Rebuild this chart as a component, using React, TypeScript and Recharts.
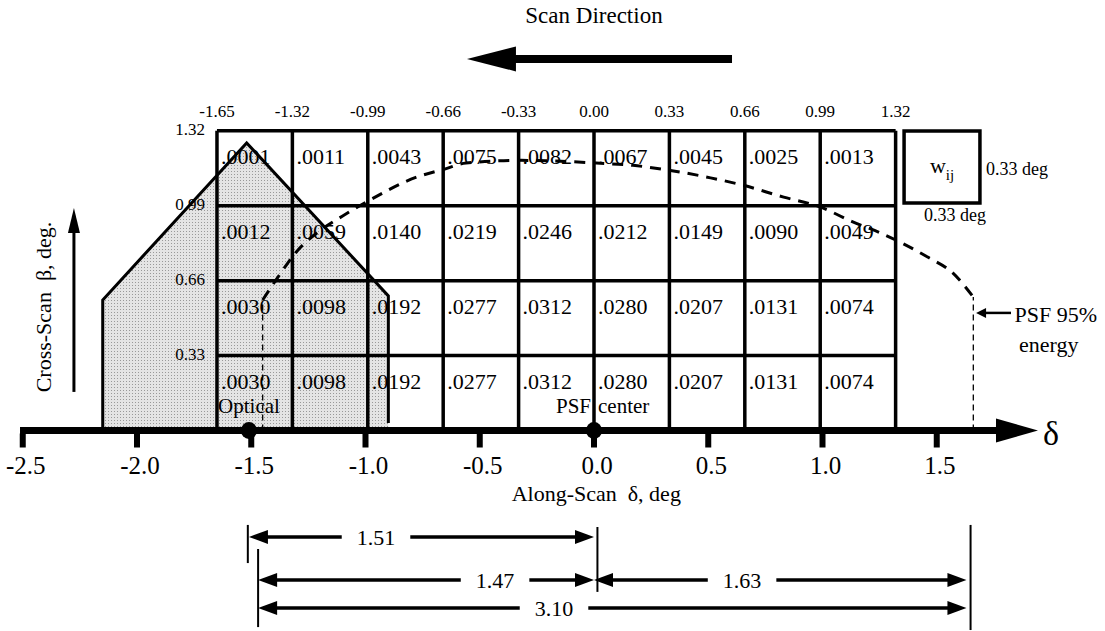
import React from "react";
import {
  ComposedChart,
  XAxis,
  YAxis,
  Area,
  Line,
  Scatter,
  ReferenceLine,
  ReferenceArea,
} from "recharts";

// ---- data ----------------------------------------------------------------

// cell boundaries of the pixel grid, deg
const COL_EDGES = [-1.65, -1.32, -0.99, -0.66, -0.33, 0, 0.33, 0.66, 0.99, 1.32];
const COL_LABELS = ["-1.65", "-1.32", "-0.99", "-0.66", "-0.33", "0.00", "0.33", "0.66", "0.99", "1.32"];
const ROW_EDGES = [1.32, 0.99, 0.66, 0.33, 0];
const ROW_LABELS = ["1.32", "0.99", "0.66", "0.33"];

// pixel weights w_ij, top row first
const WEIGHTS = [
  [0.0001, 0.0011, 0.0043, 0.0075, 0.0082, 0.0067, 0.0045, 0.0025, 0.0013],
  [0.0012, 0.0059, 0.014, 0.0219, 0.0246, 0.0212, 0.0149, 0.009, 0.0049],
  [0.003, 0.0098, 0.0192, 0.0277, 0.0312, 0.028, 0.0207, 0.0131, 0.0074],
  [0.003, 0.0098, 0.0192, 0.0277, 0.0312, 0.028, 0.0207, 0.0131, 0.0074],
];

// along-scan axis
const AXIS_TICKS = [-2.5, -2.0, -1.5, -1.0, -0.5, 0, 0.5, 1.0, 1.5];
const AXIS_TICK_LABELS = ["-2.5", "-2.0", "-1.5", "-1.0", "-0.5", "0.0", "0.5", "1.0", "1.5"];

const OPTICAL_CENTER = -1.51;
const PSF_CENTER = 0;

// shaded field of view outline (delta, beta)
const FOV = [
  { x: -2.15, y: 0 },
  { x: -2.15, y: 0.575 },
  { x: -1.52, y: 1.267 },
  { x: -0.9, y: 0.593 },
  { x: -0.9, y: 0.033 },
];

// PSF 95% energy contour
const PSF95 = [
  { x: -1.45, y: 0.575 },
  { x: -1.38, y: 0.68 },
  { x: -1.3, y: 0.79 },
  { x: -1.2, y: 0.88 },
  { x: -1.1, y: 0.945 },
  { x: -0.99, y: 1.01 },
  { x: -0.78, y: 1.115 },
  { x: -0.66, y: 1.15 },
  { x: -0.56, y: 1.178 },
  { x: -0.32, y: 1.19 },
  { x: -0.12, y: 1.185 },
  { x: 0.01, y: 1.178 },
  { x: 0.17, y: 1.168 },
  { x: 0.32, y: 1.148 },
  { x: 0.51, y: 1.113 },
  { x: 0.65, y: 1.081 },
  { x: 0.83, y: 1.028 },
  { x: 0.99, y: 0.985 },
  { x: 1.13, y: 0.92 },
  { x: 1.25, y: 0.872 },
  { x: 1.46, y: 0.764 },
  { x: 1.57, y: 0.694 },
  { x: 1.66, y: 0.588 },
];

const DIMENSIONS = [
  { from: -1.51, to: 0, label: "1.51" },
  { from: -1.47, to: 0, label: "1.47" },
  { from: 0, to: 1.63, label: "1.63" },
  { from: -1.47, to: 1.63, label: "3.10" },
];

// ---- layout --------------------------------------------------------------

const W = 1105;
const H = 631;
// the reference puts delta=0 at x=594 and beta=0 at y=430.5
const PX_X = 228.5;
const X0 = 594;
const PX_Y = 227;
const Y0 = 430.5;
const X_DOMAIN = [-X0 / PX_X, (W - X0) / PX_X];
const Y_DOMAIN = [-(H - Y0) / PX_Y, Y0 / PX_Y];

const DIM_ROW = [-0.469, -0.659, -0.659, -0.782];
const DIM_LABEL_AT = [-0.954, -0.433, 0.648, -0.175];
const DIM_GAP = 0.15;
const EXT_LINES = [
  { x: -1.515, y1: -0.416, y2: -0.584 },
  { x: -1.47, y1: -0.522, y2: -0.866 },
  { x: 0.015, y1: -0.425, y2: -0.711 },
  { x: 1.648, y1: -0.416, y2: -0.879 },
];

const AXIS_ARROW = { from: -2.512, to: 1.943, y: 0 };
const SCAN_ARROW = { from: 0.604, to: -0.556, y: 1.637 };
const BETA_ARROW = { x: -2.276, from: 0.17, to: 0.98 };
const PSF95_POINTER = { from: 1.825, to: 1.672, y: 0.518 };
const WIJ_BOX = { x1: 1.357, x2: 1.689, y1: 1.002, y2: 1.319 };
const CENTER_LABEL_Y = 0.075;

const FONT = '"Liberation Serif", "Times New Roman", Times, serif';

const seg = (
  key: string,
  x1: number,
  y1: number,
  x2: number,
  y2: number,
  width: number,
  dash?: string
) => (
  <ReferenceLine
    key={key}
    segment={[
      { x: x1, y: y1 },
      { x: x2, y: y2 },
    ]}
    stroke="#000"
    strokeWidth={width}
    strokeDasharray={dash}
    ifOverflow="visible"
  />
);

const head = (len: number, half: number) => (p: any) => {
  const { cx, cy } = p;
  const d = p.payload.dir;
  let pts = "";
  if (d === "left") pts = `${cx},${cy} ${cx + len},${cy - half} ${cx + len},${cy + half}`;
  else if (d === "right") pts = `${cx},${cy} ${cx - len},${cy - half} ${cx - len},${cy + half}`;
  else pts = `${cx},${cy} ${cx - half},${cy + len} ${cx + half},${cy + len}`;
  return <polygon points={pts} fill="#000" />;
};

const label =
  (size: number, anchor: "start" | "middle" | "end", dx = 0, dy = 0) =>
  (p: any) =>
    (
      <text
        x={p.cx + dx}
        y={p.cy + dy}
        fontSize={size}
        textAnchor={anchor}
        fontFamily={FONT}
        fill="#000"
        style={{ whiteSpace: "pre" }}
      >
        {p.payload.text}
      </text>
    );

const CELLS = WEIGHTS.flatMap((row, r) =>
  row.map((v, c) => ({ x: COL_EDGES[c], y: ROW_EDGES[r], text: v.toFixed(4).slice(1) }))
);
const COL_TEXT = COL_EDGES.map((x, i) => ({ x, y: ROW_EDGES[0], text: COL_LABELS[i] }));
const ROW_TEXT = ROW_LABELS.map((t, i) => ({ x: COL_EDGES[0], y: ROW_EDGES[i], text: t }));
const TICK_TEXT = AXIS_TICKS.map((x, i) => ({ x, y: 0, text: AXIS_TICK_LABELS[i] }));

const tickShape = (p: any) => (
  <g>
    <rect x={p.cx - 3} y={p.cy + 3} width={6} height={14} fill="#000" />
    <text x={p.cx + 3} y={p.cy + 43} fontSize={25} textAnchor="middle" fontFamily={FONT} fill="#000">
      {p.payload.text}
    </text>
  </g>
);

const back = (len: number) => (len * 0.7) / PX_X;

export default function App() {
  const last = PSF95[PSF95.length - 1];
  return (
    <div style={{ position: "absolute", left: 0, top: 0, width: W, height: H, background: "#fff" }}>
      <ComposedChart width={W} height={H} margin={{ top: 0, right: 0, bottom: 0, left: 0 }}>
        <defs>
          <pattern id="fovDots" width="3" height="3" patternUnits="userSpaceOnUse">
            <rect width="3" height="3" fill="#e4e4e4" />
            <rect width="1" height="1" fill="#999" />
          </pattern>
        </defs>
        <XAxis type="number" dataKey="x" domain={X_DOMAIN} hide allowDataOverflow />
        <YAxis type="number" dataKey="y" domain={Y_DOMAIN} hide allowDataOverflow />

        <Area
          data={FOV}
          dataKey="y"
          type="linear"
          baseValue={0}
          fill="url(#fovDots)"
          fillOpacity={1}
          stroke="none"
          isAnimationActive={false}
        />

        {/* pixel grid */}
        {ROW_EDGES.slice(0, 4).map((y) =>
          seg(`h${y}`, COL_EDGES[0], y, COL_EDGES[COL_EDGES.length - 1], y, 3.5)
        )}
        {COL_EDGES.map((x) => seg(`v${x}`, x, 0, x, ROW_EDGES[0], 3.5))}

        {/* w_ij legend box */}
        <ReferenceArea
          x1={WIJ_BOX.x1}
          x2={WIJ_BOX.x2}
          y1={WIJ_BOX.y1}
          y2={WIJ_BOX.y2}
          fill="none"
          fillOpacity={0}
          stroke="#000"
          strokeWidth={3.5}
          ifOverflow="visible"
        />

        <Line
          data={FOV}
          dataKey="y"
          type="linear"
          stroke="#000"
          strokeWidth={3}
          dot={false}
          activeDot={false}
          isAnimationActive={false}
        />

        {/* PSF 95% contour and its drop lines */}
        <Line
          data={PSF95}
          dataKey="y"
          type="monotone"
          stroke="#000"
          strokeWidth={3}
          strokeDasharray="11 8"
          dot={false}
          activeDot={false}
          isAnimationActive={false}
        />
        {seg("dropL", PSF95[0].x, 0, PSF95[0].x, PSF95[0].y, 1.3, "6 4")}
        {seg("dropR", last.x, 0, last.x, last.y, 1.3, "6 4")}

        {/* along-scan axis */}
        {seg("axis", AXIS_ARROW.from, 0, AXIS_ARROW.to - back(42), 0, 7)}
        {seg("scan", SCAN_ARROW.from, SCAN_ARROW.y, SCAN_ARROW.to + back(49), SCAN_ARROW.y, 8)}
        {seg("beta", BETA_ARROW.x, BETA_ARROW.from, BETA_ARROW.x, BETA_ARROW.to - (25 * 0.7) / PX_Y, 3)}
        {seg("ptr", PSF95_POINTER.from, PSF95_POINTER.y, PSF95_POINTER.to + back(10), PSF95_POINTER.y, 2.5)}

        {/* dimension lines */}
        {EXT_LINES.map((e, i) => seg(`ext${i}`, e.x, e.y1, e.x, e.y2, 2))}
        {DIMENSIONS.map((d, i) => [
          seg(`dl${i}`, d.from + back(19), DIM_ROW[i], DIM_LABEL_AT[i] - DIM_GAP, DIM_ROW[i], 3.5),
          seg(`dr${i}`, DIM_LABEL_AT[i] + DIM_GAP, DIM_ROW[i], d.to - back(19), DIM_ROW[i], 3.5),
        ])}

        <Scatter
          data={DIMENSIONS.flatMap((d, i) => [
            { x: d.from, y: DIM_ROW[i], dir: "left" },
            { x: d.to, y: DIM_ROW[i], dir: "right" },
          ])}
          shape={head(19, 7)}
          isAnimationActive={false}
        />
        <Scatter
          data={DIMENSIONS.map((d, i) => ({ x: DIM_LABEL_AT[i], y: DIM_ROW[i], text: d.label }))}
          shape={label(22, "middle", 0, 8)}
          isAnimationActive={false}
        />

        <Scatter data={[{ x: AXIS_ARROW.to, y: 0, dir: "right" }]} shape={head(42, 12)} isAnimationActive={false} />
        <Scatter
          data={[{ x: SCAN_ARROW.to, y: SCAN_ARROW.y, dir: "left" }]}
          shape={head(49, 12.5)}
          isAnimationActive={false}
        />
        <Scatter data={[{ x: BETA_ARROW.x, y: BETA_ARROW.to, dir: "up" }]} shape={head(25, 6)} isAnimationActive={false} />
        <Scatter
          data={[{ x: PSF95_POINTER.to, y: PSF95_POINTER.y, dir: "left" }]}
          shape={head(10, 5)}
          isAnimationActive={false}
        />

        {/* axis ticks and labels */}
        <Scatter data={TICK_TEXT} shape={tickShape} isAnimationActive={false} />

        {/* grid texts */}
        <Scatter data={CELLS} shape={label(22, "start", 4, 33)} isAnimationActive={false} />
        <Scatter data={COL_TEXT} shape={label(17, "middle", 0, -14)} isAnimationActive={false} />
        <Scatter data={ROW_TEXT} shape={label(17, "end", -12, 4)} isAnimationActive={false} />

        {/* centres */}
        <Scatter
          data={[
            { x: OPTICAL_CENTER, y: 0 },
            { x: PSF_CENTER, y: 0 },
          ]}
          shape={(p: any) => <ellipse cx={p.cx} cy={p.cy} rx={8} ry={8.5} fill="#000" />}
          isAnimationActive={false}
        />
        <Scatter
          data={[{ x: OPTICAL_CENTER, y: CENTER_LABEL_Y, text: "Optical" }]}
          shape={label(21, "middle")}
          isAnimationActive={false}
        />
        <Scatter
          data={[{ x: PSF_CENTER, y: CENTER_LABEL_Y }]}
          shape={(p: any) => (
            <g fontFamily={FONT} fontSize={21} fill="#000">
              <text x={p.cx - 3} y={p.cy} textAnchor="end">
                PSF
              </text>
              <text x={p.cx + 4} y={p.cy} textAnchor="start">
                center
              </text>
            </g>
          )}
          isAnimationActive={false}
        />

        {/* free labels */}
        <Scatter data={[{ x: 0, y: 1.795, text: "Scan Direction" }]} shape={label(23, "middle")} isAnimationActive={false} />
        <Scatter
          data={[{ x: 0.01, y: -0.311, text: "Along-Scan  \u03b4, deg" }]}
          shape={label(22, "middle")}
          isAnimationActive={false}
        />
        <Scatter data={[{ x: 1.965, y: -0.064, text: "\u03b4" }]} shape={label(34, "start")} isAnimationActive={false} />
        <Scatter
          data={[{ x: -2.411, y: 0.544, text: "Cross-Scan  \u03b2, deg." }]}
          shape={(p: any) => (
            <text
              x={p.cx}
              y={p.cy}
              transform={`rotate(-90 ${p.cx} ${p.cy})`}
              textAnchor="middle"
              dominantBaseline="central"
              fontSize={22}
              fontFamily={FONT}
              fill="#000"
              style={{ whiteSpace: "pre" }}
            >
              {p.payload.text}
            </text>
          )}
          isAnimationActive={false}
        />
        <Scatter
          data={[{ x: 1.84, y: 0.48, text: "PSF 95%" }]}
          shape={label(22, "start")}
          isAnimationActive={false}
        />
        <Scatter data={[{ x: 1.99, y: 0.345, text: "energy" }]} shape={label(22, "middle")} isAnimationActive={false} />
        <Scatter
          data={[{ x: (WIJ_BOX.x1 + WIJ_BOX.x2) / 2, y: 1.134 }]}
          shape={(p: any) => (
            <text x={p.cx} y={p.cy} textAnchor="middle" fontFamily={FONT} fill="#000">
              <tspan fontSize={22}>w</tspan>
              <tspan fontSize={15} dy={7}>
                ij
              </tspan>
            </text>
          )}
          isAnimationActive={false}
        />
        <Scatter data={[{ x: 1.716, y: 1.126, text: "0.33 deg" }]} shape={label(18, "start")} isAnimationActive={false} />
        <Scatter data={[{ x: 1.58, y: 0.923, text: "0.33 deg" }]} shape={label(18, "middle")} isAnimationActive={false} />
      </ComposedChart>
    </div>
  );
}
